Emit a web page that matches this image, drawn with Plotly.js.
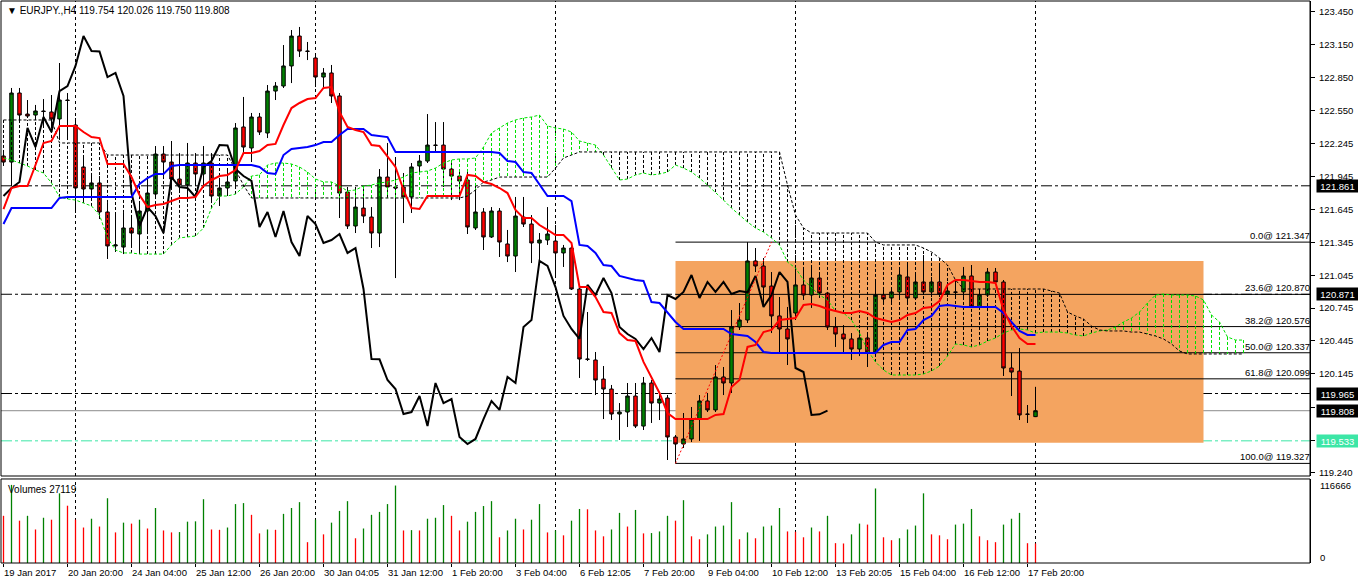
<!DOCTYPE html>
<html><head><meta charset="utf-8">
<script src="https://cdn.plot.ly/plotly-3.0.1.min.js"></script>
<style>html,body{margin:0;padding:0;background:#fff}#c{width:1358px;height:584px}</style>
</head><body><div id="c"></div>
<script>
const open = [
122.133,122.078,122.708,122.516,122.507,122.544,122.535,122.471,122.644,122.416,
122.033,121.832,121.887,121.622,121.312,121.302,121.476,121.421,121.631,121.786,
122.151,122.078,121.923,121.868,122.069,121.969,122.069,121.768,121.841,121.905,
122.398,122.206,122.489,122.343,122.726,122.772,122.955,123.228,123.091,123.028,
122.854,122.891,122.681,121.804,121.494,121.658,121.576,121.430,121.941,121.850,
121.850,121.759,122.042,122.087,122.233,122.233,122.014,121.950,121.914,121.476,
121.622,121.394,121.631,121.330,121.220,121.576,121.512,121.339,121.366,121.357,
121.248,121.293,120.919,120.280,120.271,120.097,120.006,119.778,119.796,119.942,
119.668,120.061,119.878,119.924,119.568,119.504,119.550,119.732,119.897,119.815,
120.116,120.061,120.572,120.636,121.175,121.129,120.946,120.673,120.554,120.700,
120.956,120.864,121.019,120.882,120.572,120.508,120.463,120.371,120.472,120.344,
120.864,120.837,120.892,121.029,120.837,120.983,120.892,120.983,120.873,120.892,
120.892,121.038,120.755,120.864,121.074,120.983,120.198,120.170,119.778,119.754];
const high = [
122.160,122.754,122.754,122.644,122.599,122.653,122.690,122.982,122.708,122.480,
122.133,121.978,121.950,121.704,121.613,121.613,121.585,121.722,121.950,122.224,
122.224,122.270,122.160,122.252,122.160,122.224,122.160,121.905,122.014,122.434,
122.672,122.526,122.526,122.781,122.808,123.146,123.283,123.311,123.174,123.073,
122.936,122.964,122.708,121.850,121.850,121.850,121.667,122.014,122.252,122.124,
121.978,122.069,122.142,122.516,122.443,122.443,122.069,121.987,121.987,121.887,
121.658,121.667,121.658,121.458,121.759,121.759,121.594,121.430,121.667,121.503,
121.321,121.321,120.928,120.709,120.344,120.216,120.043,119.878,120.061,120.061,
120.116,120.088,119.970,119.951,119.586,119.787,119.842,119.951,119.970,120.225,
120.207,120.727,120.791,121.347,121.293,121.202,121.074,120.846,120.755,121.120,
121.120,121.120,121.065,120.892,120.663,120.590,120.517,120.517,120.517,121.001,
120.910,120.937,121.092,121.156,121.065,121.229,121.029,121.156,120.983,120.974,
121.120,121.138,120.910,121.111,121.111,121.001,120.335,120.380,119.860,120.026];
const low = [
122.042,121.859,122.462,122.480,122.462,122.407,122.407,122.279,122.279,121.613,
121.722,121.741,121.558,121.193,121.257,121.238,121.302,121.257,121.439,121.741,
121.950,121.832,121.795,121.768,121.859,121.859,121.704,121.677,121.795,121.859,
122.170,122.078,122.325,122.297,122.644,122.754,122.799,123.037,123.009,122.763,
122.763,122.617,121.567,121.467,121.430,121.521,121.293,121.302,121.750,121.019,
121.521,121.613,121.960,122.069,122.170,121.850,121.731,121.731,121.421,121.458,
121.275,121.385,121.211,121.165,121.074,121.485,121.156,121.184,121.321,121.047,
121.120,120.910,120.107,120.262,119.951,119.732,119.723,119.541,119.659,119.650,
119.632,119.696,119.723,119.358,119.327,119.468,119.522,119.532,119.796,119.796,
119.951,119.970,120.545,120.609,121.074,120.764,120.517,120.326,120.225,120.636,
120.819,120.746,120.837,120.545,120.390,120.335,120.271,120.307,120.207,120.335,
120.800,120.800,120.837,120.800,120.819,120.864,120.846,120.846,120.846,120.846,
120.846,120.746,120.746,120.846,120.974,120.125,119.942,119.723,119.696,119.750];
const close = [
122.078,122.708,122.507,122.498,122.544,122.539,122.471,122.644,122.640,121.841,
121.832,121.887,121.622,121.312,121.321,121.476,121.430,121.631,121.795,122.151,
122.078,121.923,121.868,122.069,121.969,122.069,121.768,121.841,121.896,122.389,
122.215,122.489,122.352,122.726,122.772,122.955,123.228,123.091,123.088,122.854,
122.891,122.681,121.795,121.494,121.667,121.585,121.430,121.941,121.850,121.841,
121.759,122.033,122.087,122.233,122.230,122.014,121.950,121.905,121.485,121.622,
121.394,121.631,121.348,121.220,121.585,121.512,121.339,121.366,121.421,121.248,
121.293,120.919,120.280,120.277,120.088,120.006,119.778,119.796,119.942,119.668,
120.061,119.878,119.915,119.568,119.504,119.550,119.732,119.897,119.815,120.116,
120.061,120.572,120.636,121.175,121.129,120.937,120.673,120.554,120.463,120.956,
120.864,121.019,120.882,120.572,120.508,120.463,120.371,120.472,120.344,120.864,
120.828,120.892,121.047,120.837,120.983,120.892,120.983,120.873,120.901,120.889,
121.038,120.755,120.864,121.074,120.983,120.198,120.161,119.769,119.775,119.808];
const tenkan = [
121.649,121.841,121.859,121.859,122.051,122.252,122.270,122.407,122.407,122.407,
122.352,122.306,122.297,122.060,122.060,122.060,121.941,121.777,121.667,121.686,
121.695,121.722,121.750,121.750,121.759,121.859,121.914,121.950,121.960,122.005,
122.160,122.160,122.179,122.233,122.243,122.416,122.571,122.617,122.653,122.662,
122.754,122.763,122.535,122.398,122.370,122.352,122.233,122.224,122.133,122.033,
121.823,121.658,121.649,121.768,121.768,121.768,121.768,121.768,121.960,121.950,
121.896,121.877,121.841,121.795,121.640,121.567,121.567,121.503,121.458,121.412,
121.412,121.339,120.937,120.937,120.846,120.709,120.700,120.517,120.453,120.444,
120.253,120.116,119.970,119.787,119.732,119.732,119.732,119.732,119.732,119.769,
119.778,120.024,120.088,120.390,120.408,120.526,120.545,120.636,120.645,120.654,
120.773,120.782,120.764,120.736,120.718,120.700,120.700,120.718,120.700,120.654,
120.636,120.618,120.636,120.682,120.700,120.746,120.755,120.809,120.956,121.001,
121.001,120.992,120.983,120.983,120.974,120.727,120.581,120.472,120.417,120.417];
const kijun = [
121.512,121.658,121.658,121.658,121.658,121.658,121.658,121.750,121.759,121.759,
121.759,121.759,121.759,121.759,121.759,121.759,121.759,121.877,121.932,121.969,
121.969,122.042,122.051,122.051,122.051,122.051,122.051,122.051,122.051,122.051,
122.051,122.051,122.033,121.978,121.969,122.142,122.197,122.206,122.215,122.233,
122.261,122.261,122.325,122.379,122.379,122.379,122.325,122.316,122.306,122.170,
122.170,122.170,122.170,122.170,122.170,122.170,122.170,122.170,122.170,122.170,
122.170,122.170,122.160,122.087,122.078,121.987,121.978,121.877,121.768,121.768,
121.768,121.722,121.321,121.312,121.248,121.138,121.129,121.038,121.019,121.001,
120.992,120.800,120.791,120.700,120.618,120.554,120.554,120.554,120.554,120.554,
120.554,120.508,120.499,120.490,120.435,120.344,120.335,120.335,120.335,120.335,
120.335,120.335,120.335,120.335,120.335,120.335,120.335,120.335,120.335,120.335,
120.408,120.435,120.435,120.545,120.554,120.636,120.673,120.764,120.773,120.764,
120.755,120.755,120.755,120.755,120.755,120.700,120.618,120.536,120.499,120.499];
const spanA = [
122.115,122.097,122.069,122.042,122.005,121.978,121.887,121.759,121.741,121.731,
121.704,121.677,121.594,121.385,121.275,121.248,121.248,121.238,121.238,121.238,
121.238,121.321,121.385,121.394,121.403,121.476,121.658,121.768,121.768,121.786,
121.850,121.950,121.960,122.051,122.069,122.069,122.060,122.033,121.987,121.923,
121.896,121.896,121.859,121.814,121.823,121.859,121.868,121.887,121.896,121.914,
121.941,121.978,121.987,121.996,122.023,122.069,122.097,122.106,122.106,122.115,
122.215,122.343,122.389,122.434,122.462,122.480,122.489,122.507,122.407,122.389,
122.379,122.352,122.270,122.252,122.233,122.142,122.023,121.914,121.923,121.960,
121.978,121.960,121.969,121.987,122.051,122.023,121.987,121.932,121.868,121.804,
121.731,121.658,121.594,121.531,121.476,121.439,121.385,121.321,121.165,121.111,
121.001,120.928,120.864,120.819,120.718,120.700,120.636,120.517,120.362,120.253,
120.180,120.134,120.134,120.134,120.134,120.143,120.171,120.216,120.307,120.417,
120.408,120.390,120.408,120.444,120.472,120.517,120.545,120.554,120.545,120.517,
120.526,120.526,120.526,120.517,120.499,120.490,120.517,120.536,120.545,120.572,
120.618,120.654,120.709,120.791,120.864,120.873,120.864,120.864,120.864,120.855,
120.819,120.682,120.618,120.481,120.453,120.453];
const spanB = [
122.462,122.462,122.462,122.462,122.462,122.462,122.462,122.252,122.252,122.252,
122.252,122.252,122.252,122.142,122.142,122.142,122.142,122.142,122.142,122.142,
122.142,122.142,122.142,122.142,122.142,122.142,122.142,122.142,122.142,122.005,
121.868,121.750,121.750,121.750,121.750,121.750,121.750,121.750,121.750,121.750,
121.750,121.750,121.750,121.750,121.750,121.750,121.750,121.750,121.750,121.750,
121.750,121.750,121.750,121.750,121.750,121.750,121.750,121.750,121.768,121.823,
121.896,121.914,121.941,121.941,121.941,121.941,121.941,121.941,121.941,122.023,
122.115,122.142,122.170,122.170,122.170,122.170,122.170,122.170,122.170,122.170,
122.170,122.170,122.170,122.170,122.170,122.170,122.170,122.170,122.170,122.170,
122.170,122.170,122.170,122.170,122.170,122.170,122.170,122.170,121.868,121.594,
121.476,121.430,121.430,121.430,121.430,121.430,121.430,121.430,121.430,121.348,
121.321,121.321,121.321,121.321,121.321,121.293,121.257,121.202,121.138,121.001,
120.919,120.919,120.919,120.919,120.919,120.919,120.919,120.919,120.919,120.919,
120.919,120.901,120.882,120.709,120.673,120.645,120.581,120.545,120.536,120.536,
120.536,120.526,120.526,120.508,120.490,120.463,120.417,120.353,120.326,120.326,
120.326,120.326,120.326,120.326,120.326,120.326];
const volume = [
65540,108480,58760,65540,46556,62828,60116,96728,79552,60116,
49268,61472,50624,89948,42488,56048,54692,60116,47912,76388,
45200,42488,42940,57404,57856,88592,46556,46104,49268,81812,
83168,66896,41132,46556,46104,68252,76388,84524,28928,60116,
39776,56048,72320,85880,34352,47912,66896,70964,81812,107576,
45200,45650,45200,61472,62828,80456,65540,45200,57404,70964,
79100,85880,35708,45200,61472,46556,60116,81812,42488,45200,
38420,58760,75032,74580,45200,37064,46556,69608,50624,73676,
41132,41584,43844,65540,58760,87236,37064,32996,39776,50624,
51980,84524,32996,42488,34352,50624,51980,76388,43844,43392,
35708,49268,43844,65540,27572,27120,39776,54692,53336,103508,
35708,31640,34352,46556,51980,96728,39776,38420,32996,53336,
54692,75032,37064,31640,28928,53336,61472,69608,27500,27119];
const timeLabels = ['19 Jan 2017','20 Jan 20:00','24 Jan 04:00','25 Jan 12:00','26 Jan 20:00','30 Jan 04:05','31 Jan 12:00','1 Feb 20:00','3 Feb 04:00','6 Feb 12:05','7 Feb 20:00','9 Feb 04:00','10 Feb 12:00','13 Feb 20:05','15 Feb 04:00','16 Feb 12:00','17 Feb 20:00'];
const priceTicks = [123.450,123.150,122.850,122.550,122.245,121.945,121.645,121.345,121.045,120.745,120.445,120.145,119.840,119.540,119.240];
const fibPct = ['0.0','23.6','38.2','50.0','61.8','100.0'];
const fibPrice = [121.347,120.870,120.576,120.337,120.099,119.327];
const hlines = [121.861,120.871,119.965];
const bidPrice = 119.808;
const alertPrice = 119.533;
const rectTop = 121.174, rectBottom = 119.515;
const quote = 'EURJPY.,H4 119.754 120.026 119.750 119.808';
const volMax = 116666;

const F = 'Liberation Sans, Arial, sans-serif';
const N = close.length;
const bars = close.map((_, i) => i);
const cloudX = spanA.map((_, i) => i);
const XMIN = -0.3125, XMAX = 163.3125;
const fibStart = 84, fibEnd = 96, rectEnd = 150;

const gx = [], gy = [], bx = [], by = [];
for (let i = 0; i < spanA.length; i++) {
  if (spanA[i] > spanB[i]) { gx.push(i, i, null); gy.push(spanA[i], spanB[i], null); }
  else if (spanA[i] < spanB[i]) { bx.push(i, i, null); by.push(spanA[i], spanB[i], null); }
}
const vgx = [], vgy = [], vrx = [], vry = [];
volume.forEach((v, i) => {
  if (i > 0 && v > volume[i - 1]) { vgx.push(i, i, null); vgy.push(0, v, null); }
  else { vrx.push(i, i, null); vry.push(0, v, null); }
});

const traces = [
  {type:'scatter', mode:'lines', x:gx, y:gy, line:{color:'#00E000', width:1, dash:'3px,2px'}, hoverinfo:'skip'},
  {type:'scatter', mode:'lines', x:bx, y:by, line:{color:'#000000', width:1, dash:'3px,2px'}, hoverinfo:'skip'},
  {type:'scatter', mode:'lines', x:cloudX, y:spanA, line:{color:'#00E000', width:1, dash:'3px,2px'}, hoverinfo:'skip'},
  {type:'scatter', mode:'lines', x:cloudX, y:spanB, line:{color:'#000000', width:1, dash:'3px,2px'}, hoverinfo:'skip'},
  {type:'candlestick', x:bars, open:open, high:high, low:low, close:close, whiskerwidth:0,
   increasing:{line:{color:'#000000', width:1}, fillcolor:'#008000'},
   decreasing:{line:{color:'#000000', width:1}, fillcolor:'#FF0000'}, hoverinfo:'skip'},
  {type:'scatter', mode:'lines', x:bars.slice(0, N - 26), y:close.slice(26), line:{color:'#000000', width:2}, hoverinfo:'skip'},
  {type:'scatter', mode:'lines', x:bars, y:kijun, line:{color:'#0000FF', width:2}, hoverinfo:'skip'},
  {type:'scatter', mode:'lines', x:bars, y:tenkan, line:{color:'#FF0000', width:2}, hoverinfo:'skip'},
  {type:'scatter', mode:'lines', x:vgx, y:vgy, yaxis:'y2', line:{color:'#008000', width:1.3}, hoverinfo:'skip'},
  {type:'scatter', mode:'lines', x:vrx, y:vry, yaxis:'y2', line:{color:'#FF0000', width:1.3}, hoverinfo:'skip'}
];

const MAIN_DOM = [0.1548, 1], VOL_DOM = [0, 0.1495];
const shapes = [];
shapes.push({type:'rect', xref:'x', yref:'y', x0:fibStart, x1:rectEnd, y0:rectBottom, y1:rectTop, fillcolor:'#F4A460', line:{width:0}, layer:'below'});
[9, 39, 69, 99, 129].forEach(b => {
  shapes.push({type:'line', xref:'x', yref:'paper', x0:b, x1:b, y0:MAIN_DOM[0], y1:1, line:{color:'#000', width:1, dash:'3px,3px'}, layer:'below'});
  shapes.push({type:'line', xref:'x', yref:'paper', x0:b, x1:b, y0:0, y1:VOL_DOM[1], line:{color:'#000', width:1, dash:'3px,3px'}, layer:'below'});
});
fibPrice.forEach(p => shapes.push({type:'line', xref:'x', yref:'y', x0:fibStart, x1:XMAX, y0:p, y1:p, line:{color:'#000', width:1}, layer:'below'}));
hlines.forEach(p => shapes.push({type:'line', xref:'paper', yref:'y', x0:0, x1:1, y0:p, y1:p, line:{color:'#000', width:1, dash:'11px,3px,3px,3px'}, layer:'below'}));
shapes.push({type:'line', xref:'paper', yref:'y', x0:0, x1:1, y0:bidPrice, y1:bidPrice, line:{color:'#8C8C8C', width:1}, layer:'below'});
shapes.push({type:'line', xref:'paper', yref:'y', x0:0, x1:1, y0:alertPrice, y1:alertPrice, line:{color:'#3CE6A6', width:1, dash:'11px,3px,3px,3px'}, layer:'below'});
shapes.push({type:'line', xref:'x', yref:'y', x0:fibStart, x1:fibEnd, y0:fibPrice[5], y1:fibPrice[0], line:{color:'#FF0000', width:1, dash:'2px,2px'}, layer:'above'});
shapes.push({type:'rect', xref:'paper', yref:'paper', x0:0, x1:1, y0:MAIN_DOM[0], y1:1, line:{color:'#000', width:1}, fillcolor:'rgba(0,0,0,0)', layer:'above'});
shapes.push({type:'rect', xref:'paper', yref:'paper', x0:0, x1:1, y0:VOL_DOM[0], y1:VOL_DOM[1], line:{color:'#000', width:1}, fillcolor:'rgba(0,0,0,0)', layer:'above'});

const ann = [];
const tf = {family:F, size:9.5, color:'#000'};
ann.push({xref:'paper', yref:'paper', x:0, y:1, xanchor:'left', yanchor:'top', xshift:4, yshift:-2, text:'▼ ' + quote, showarrow:false, font:{family:F, size:10, color:'#000'}});
ann.push({xref:'paper', yref:'paper', x:0, y:VOL_DOM[1], xanchor:'left', yanchor:'top', xshift:5, yshift:-3, text:'Volumes ' + volume[N - 1], showarrow:false, font:{family:F, size:10, color:'#000'}});
timeLabels.forEach((t, k) => ann.push({xref:'x', yref:'paper', x:k * 8, y:0, xanchor:'left', yanchor:'top', xshift:-2, yshift:-2, text:t, showarrow:false, font:tf}));
fibPct.forEach((p, k) => ann.push({xref:'paper', yref:'y', x:1, y:fibPrice[k], xanchor:'right', yanchor:'bottom', xshift:2, yshift:-1, text:p + '@ ' + fibPrice[k].toFixed(3), showarrow:false, font:tf}));
function box(p, bg) {
  ann.push({xref:'paper', yref:'y', x:1, y:p, xanchor:'left', yanchor:'middle', xshift:6, text:p.toFixed(3), showarrow:false,
    bgcolor:bg, borderpad:0, width:41, height:12, align:'center', font:{family:F, size:9.5, color:'#FFFFFF'}});
}
hlines.forEach(p => box(p, '#000000'));
box(bidPrice, '#000000');
box(alertPrice, '#3CE6A6');
ann.push({xref:'paper', yref:'y2', x:1, y:volMax, xanchor:'left', yanchor:'middle', xshift:8, yshift:-7, text:String(volMax), showarrow:false, font:tf});
ann.push({xref:'paper', yref:'y2', x:1, y:0, xanchor:'left', yanchor:'middle', xshift:8, yshift:6, text:'0', showarrow:false, font:tf});

const hiddenTicks = [119.540];
const layout = {
  width:1358, height:584, margin:{l:1, r:48, t:1, b:21},
  paper_bgcolor:'#FFFFFF', plot_bgcolor:'#FFFFFF', showlegend:false, boxgap:0.38,
  xaxis:{range:[XMIN, XMAX], anchor:'y2', rangeslider:{visible:false}, showgrid:false, zeroline:false, showline:false,
    tickvals:timeLabels.map((_, k) => k * 8), ticktext:timeLabels.map(() => ''), ticks:'outside', ticklen:3, tickcolor:'#000'},
  yaxis:{domain:MAIN_DOM, range:[119.212, 123.548], side:'right', showgrid:false, zeroline:false, showline:true, linecolor:'#000', linewidth:1,
    tickvals:priceTicks, ticktext:priceTicks.map(v => hiddenTicks.includes(v) ? '' : v.toFixed(3)), ticks:'outside', ticklen:4, tickcolor:'#000', ticklabelstandoff:2,
    tickfont:{family:F, size:9.5, color:'#000'}},
  yaxis2:{domain:VOL_DOM, range:[0, volMax], side:'right', showgrid:false, zeroline:false, showline:true, linecolor:'#000', showticklabels:false, ticks:''},
  shapes:shapes, annotations:ann
};
Plotly.newPlot('c', traces, layout, {staticPlot:true, displayModeBar:false});
</script></body></html>
